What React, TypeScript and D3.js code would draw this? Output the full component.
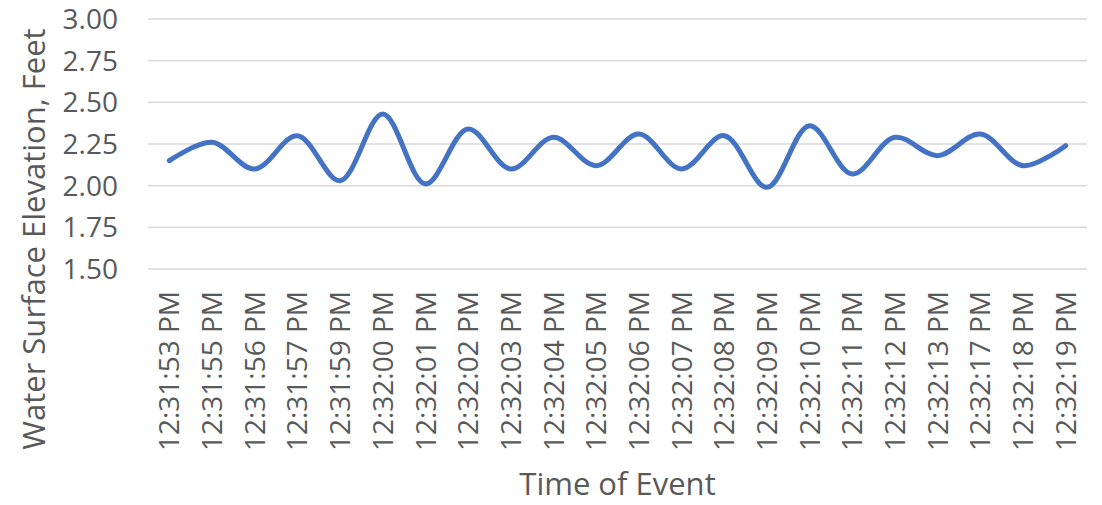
import React from "react";
import * as d3 from "d3";

// Event timestamps along the category axis
const times = [
  "12:31:53 PM", "12:31:55 PM", "12:31:56 PM", "12:31:57 PM", "12:31:59 PM",
  "12:32:00 PM", "12:32:01 PM", "12:32:02 PM", "12:32:03 PM", "12:32:04 PM",
  "12:32:05 PM", "12:32:06 PM", "12:32:07 PM", "12:32:08 PM", "12:32:09 PM",
  "12:32:10 PM", "12:32:11 PM", "12:32:12 PM", "12:32:13 PM", "12:32:17 PM",
  "12:32:18 PM", "12:32:19 PM",
];

// Water surface elevation (feet) at each timestamp
const elevation = [
  2.15, 2.26, 2.1, 2.3, 2.03, 2.43, 2.01, 2.34, 2.1, 2.29, 2.12,
  2.31, 2.1, 2.3, 1.99, 2.36, 2.07, 2.29, 2.18, 2.31, 2.12, 2.24,
];

const yTicks = [1.5, 1.75, 2.0, 2.25, 2.5, 2.75, 3.0];

const W = 1102;
const H = 505;
const plot = { left: 148, right: 1087, top: 19, bottom: 269 };
const FONT = "'Open Sans', 'Noto Sans', sans-serif";
const TEXT = "#595959";

export default function App() {
  const x = d3
    .scaleBand<string>()
    .domain(times)
    .range([plot.left, plot.right])
    .paddingInner(0)
    .paddingOuter(0);
  const y = d3.scaleLinear().domain([1.5, 3.0]).range([plot.bottom, plot.top]);

  const cx = (t: string) => (x(t) ?? 0) + x.bandwidth() / 2;

  const line = d3
    .line<number>()
    .x((_, i) => cx(times[i]))
    .y((d) => y(d))
    .curve(d3.curveCatmullRom.alpha(0.5));

  return (
    <svg
      width={W}
      height={H}
      style={{ position: "absolute", left: 0, top: 0, background: "#fff" }}
      fontFamily={FONT}
    >
      <rect width={W} height={H} fill="#fff" />
      {yTicks.map((t) => (
        <line
          key={`g${t}`}
          x1={plot.left}
          x2={plot.right}
          y1={y(t)}
          y2={y(t)}
          stroke="#d9d9d9"
          strokeWidth={1.5}
        />
      ))}
      {yTicks.map((t) => (
        <text
          key={`yt${t}`}
          x={118}
          y={y(t)}
          dy="0.36em"
          textAnchor="end"
          fontSize={28}
          fill={TEXT}
        >
          {d3.format(".2f")(t)}
        </text>
      ))}
      <path
        d={line(elevation) ?? ""}
        fill="none"
        stroke="#4472C4"
        strokeWidth={5}
        strokeLinecap="round"
        strokeLinejoin="round"
      />
      {times.map((t) => (
        <text
          key={t}
          transform={`translate(${cx(t)},${291}) rotate(-90)`}
          dy="0.36em"
          textAnchor="end"
          fontSize={28}
          fill={TEXT}
        >
          {t}
        </text>
      ))}
      <text
        x={(plot.left + plot.right) / 2}
        y={495}
        textAnchor="middle"
        fontSize={31}
        fill={TEXT}
      >
        Time of Event
      </text>
      <text
        transform={`translate(45,239) rotate(-90)`}
        textAnchor="middle"
        fontSize={31}
        fill={TEXT}
      >
        Water Surface Elevation, Feet
      </text>
    </svg>
  );
}
